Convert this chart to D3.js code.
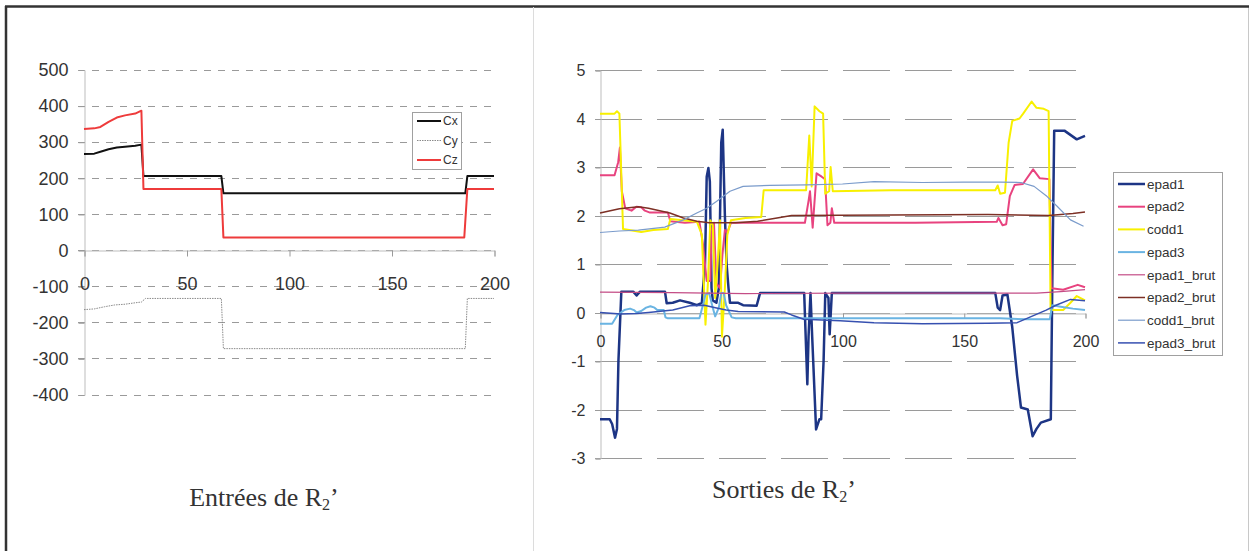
<!DOCTYPE html>
<html><head><meta charset="utf-8">
<script src="https://cdn.jsdelivr.net/npm/d3@7"></script>
<style>
html,body{margin:0;padding:0;background:#fff;}
svg{display:block;}
</style></head>
<body>
<svg id="c" width="1253" height="551"></svg>
<script>
// ---------- DATA ----------
// Left chart: inputs (x, value)
const cx = [[0,266],[5,267],[8,272],[12,279],[16,284],[20,286],[25,289],[28,292],[29,205],[67,205],[68,157],[186,157],[187,205],[200,205]];
const cy = [[0,-165],[5,-163],[10,-157],[15,-152],[20,-150],[25,-146],[28,-144],[30,-134],[67,-134],[68,-273],[186,-273],[187,-134],[200,-134]];
const cz = [[0,335],[5,337],[8,341],[12,355],[16,367],[20,373],[25,378],[28,386],[29,169],[67,169],[68,35],[185.5,35],[187,169],[200,169]];
const leftNames = ["Cx","Cy","Cz"];
const leftYTicks = [-400,-300,-200,-100,0,100,200,300,400,500];
const leftXTicks = [0,50,100,150,200];

// Right chart: outputs (x, value)
const epad1 = [[0,-2.2],[4,-2.2],[5,-2.3],[6.2,-2.58],[7,-2.4],[7.6,-1.0],[8.8,0.43],[13.7,0.43],[15.1,0.35],[16.5,0.43],[26.8,0.43],[27.5,0.19],[30,0.2],[33,0.25],[37,0.2],[40,0.15],[42,0.2],[43.3,1.0],[44,2.8],[44.7,2.98],[45.3,2.7],[46,0.5],[46.5,0.25],[48,0.2],[49,0.5],[50,3.5],[50.6,3.77],[51.5,2.0],[52.2,1.0],[53,0.5],[53.6,0.2],[57,0.2],[59,0.15],[64.6,0.14],[66,0.4],[84.2,0.4],[85.5,-1.48],[86,-0.5],[86.8,0.4],[87.5,-0.5],[89.1,-2.41],[90.5,-2.2],[91.2,-2.2],[92.2,-1.0],[92.9,0.4],[94.2,0.3],[94.7,-0.45],[95.6,0.4],[150,0.4],[163,0.4],[164,0.1],[165,0.05],[166,0.35],[168,0.37],[170,-0.3],[172,-1.3],[173.6,-1.96],[176.4,-2.0],[178.4,-2.55],[180,-2.4],[181.8,-2.27],[185.9,-2.2],[186.6,1.0],[187.3,3.75],[191.5,3.75],[196.6,3.57],[200,3.64]];
const epad2 = [[0,2.83],[6,2.83],[7.5,3.1],[8.2,3.4],[9,2.5],[10.4,2.15],[13,2.1],[15,2.18],[17,2.17],[18.5,2.1],[20.6,2.06],[28,2.06],[29,1.88],[35,1.85],[41,1.87],[42.5,1.4],[44,0.65],[45.5,0.65],[46,1.7],[47,1.85],[48,0.6],[49.5,0.5],[50.5,1.2],[51.5,1.7],[52.5,1.65],[54,1.85],[84.5,1.85],[86,2.3],[86.6,2.5],[87.7,1.75],[89.3,2.87],[91.4,2.8],[92.8,2.75],[93.8,1.8],[95,1.85],[95.6,2.15],[96.6,1.85],[130,1.85],[163.6,1.87],[164.3,1.95],[166,1.8],[167.5,1.82],[169,2.4],[171,2.63],[174.4,2.65],[178.6,2.95],[181.3,2.77],[185.3,2.75],[186.2,0.5],[191,0.47],[197,0.57],[200,0.52]];
const codd1 = [[0,4.1],[6,4.1],[7,4.15],[8,4.1],[9.5,1.72],[12,1.7],[17,1.66],[22,1.7],[28,1.72],[29,1.93],[34,1.9],[40,1.87],[42,1.6],[43.5,-0.25],[44.5,0.6],[45.5,1.9],[46.5,1.8],[47.5,0.3],[48.5,1.0],[49.5,1.9],[50.3,-0.5],[51.5,0.5],[52.5,1.6],[54,1.9],[60,1.95],[66.5,1.97],[67.5,2.52],[85,2.52],[86.3,3.65],[87.3,2.6],[88.5,4.25],[90.5,4.15],[92,4.1],[92.9,2.45],[94.5,2.5],[95.1,3.0],[96,2.5],[120,2.52],[163,2.52],[164,2.62],[165,2.45],[167,2.47],[168.5,3.5],[170,3.95],[173,4.0],[174.5,4.1],[178,4.35],[180,4.22],[183,4.2],[185,4.15],[185.8,0.05],[191,0.05],[194,0.2],[196.6,0.34],[200,0.25]];
const epad3 = [[0,-0.23],[5,-0.23],[7.2,-0.05],[8.6,0.0],[10,0.05],[12.4,0.08],[14,0.05],[15.1,0.0],[17,0.03],[19,0.1],[20.8,0.13],[22.5,0.1],[23.6,0.05],[26.3,0.05],[27,-0.1],[28,-0.12],[41,-0.12],[42.7,0.2],[43.5,0.37],[45,0.4],[46.5,0.1],[47.5,-0.08],[49,0.1],[50,0.4],[51,0.4],[52,0.15],[54.3,-0.1],[56,-0.12],[100,-0.12],[140,-0.12],[165,-0.12],[176,-0.14],[185.5,-0.14],[186.5,0.15],[190,0.12],[195,0.08],[200,0.05]];
const epad1_brut = [[0,0.42],[30,0.41],[60,0.39],[100,0.4],[150,0.4],[180,0.4],[190,0.43],[200,0.47]];
const epad2_brut = [[0,2.05],[8,2.14],[15.8,2.18],[20,2.15],[28.8,2.05],[34.4,1.95],[39.9,1.88],[45,1.85],[56,1.85],[65,1.88],[73,1.95],[79,2.0],[120,2.01],[160,2.02],[185,2.0],[195,2.04],[200,2.07]];
const codd1_brut = [[0,1.65],[8,1.68],[15.8,1.7],[26.7,1.76],[34.4,1.91],[39.9,2.05],[44,2.15],[48,2.29],[53.6,2.5],[59,2.6],[70,2.62],[85,2.63],[100,2.65],[113,2.7],[133,2.68],[150,2.69],[165,2.69],[173.6,2.68],[179,2.6],[184.4,2.39],[188.5,2.19],[194,1.91],[199.4,1.78]];
const epad3_brut = [[0,0.0],[8.6,-0.03],[15,-0.02],[20,0.0],[30,0.05],[37,0.14],[43,0.15],[47.6,0.1],[52,0.05],[57,0.02],[76,0.01],[79,-0.05],[84,-0.14],[99,-0.17],[113,-0.21],[133,-0.23],[160,-0.22],[172,-0.21],[178,-0.08],[184,0.05],[188,0.15],[194,0.27],[200,0.24]];
const rightNames = ["epad1","epad2","codd1","epad3","epad1_brut","epad2_brut","codd1_brut","epad3_brut"];
const rightYTicks = [-3,-2,-1,0,1,2,3,4,5];
const rightXTicks = [0,50,100,150,200];

// ---------- DRAW ----------
const svg = d3.select("#c");
const SANS = "'Liberation Sans', Arial, sans-serif";
const SERIF = "'Liberation Serif', 'Times New Roman', serif";
const fmt = d => String(d);  // plain hyphen-minus as in the reference

// frame
svg.append("rect").attr("x",5.5).attr("y",6.5).attr("width",1243).attr("height",560)
  .attr("fill","none").attr("stroke","#c8c8c8").attr("stroke-width",1);
svg.append("line").attr("x1",5).attr("x2",1249).attr("y1",6.5).attr("y2",6.5).attr("stroke","#333").attr("stroke-width",2.5);
svg.append("line").attr("x1",6).attr("x2",6).attr("y1",6).attr("y2",551).attr("stroke","#333").attr("stroke-width",2.5);
svg.append("line").attr("x1",533.5).attr("x2",533.5).attr("y1",7).attr("y2",551).attr("stroke","#dcdcdc").attr("stroke-width",1);

function panel(cfg){
  const g = svg.append("g");
  const x = d3.scaleLinear().domain([0,200]).range(cfg.xr);
  const y = d3.scaleLinear().domain(cfg.yd).range(cfg.yr);
  // grid
  g.append("g").selectAll("line").data(cfg.yTicks).join("line")
    .attr("x1",cfg.gridX0).attr("x2",x(200)).attr("y1",d=>Math.round(y(d))+0.5).attr("y2",d=>Math.round(y(d))+0.5)
    .attr("stroke","#9a9a9a").attr("stroke-width",1).attr("stroke-dasharray",cfg.dash);
  // y axis
  const ya = g.append("g").attr("transform",`translate(${x(0)+0.5},0.5)`)
    .call(d3.axisLeft(y).tickValues(cfg.yTicks).tickSize(cfg.tick).tickPadding(cfg.ypad).tickFormat(fmt));
  ya.select(".domain").attr("stroke","#bdbdbd");
  ya.selectAll(".tick line").attr("stroke","#9a9a9a");
  ya.selectAll("text").attr("font-family",SANS).attr("font-size",cfg.yfs).attr("fill","#333");
  // x axis at 0
  const xa = g.append("g").attr("transform",`translate(0.5,${Math.round(y(0))+0.5})`)
    .call(d3.axisBottom(x).tickValues(cfg.xTicks).tickSize(cfg.tick).tickPadding(cfg.xpad).tickFormat(fmt));
  xa.select(".domain").attr("stroke","#bdbdbd");
  xa.selectAll(".tick line").attr("stroke","#9a9a9a");
  xa.selectAll("text").attr("font-family",SANS).attr("font-size",cfg.xfs).attr("fill","#333");
  // lines
  const line = d3.line().x(d=>x(d[0])).y(d=>y(d[1]));
  cfg.series.forEach(s=>{
    g.append("path").datum(s.data).attr("d",line).attr("fill","none")
      .attr("stroke",s.color).attr("stroke-width",s.w).attr("stroke-linejoin","round")
      .attr("stroke-dasharray",s.dash||null);
  });
  // legend
  const L = cfg.legend;
  g.append("rect").attr("x",L.x+0.5).attr("y",L.y+0.5).attr("width",L.w).attr("height",L.h)
    .attr("fill","#fff").attr("stroke","#a0a0a0");
  cfg.series.forEach((s,i)=>{
    const yy = L.y0 + i*L.step;
    g.append("line").attr("x1",L.lx0).attr("x2",L.lx1).attr("y1",yy).attr("y2",yy)
      .attr("stroke",s.color).attr("stroke-width",s.w).attr("stroke-dasharray",s.dash||null);
    g.append("text").attr("x",L.tx).attr("y",yy).attr("dy","0.35em").text(s.name)
      .attr("font-family",SANS).attr("font-size",L.fs).attr("fill","#333");
  });
  // title
  const t = svg.append("text").attr("x",cfg.title.x).attr("y",cfg.title.y).attr("text-anchor","middle")
    .attr("font-family",SERIF).attr("font-size",cfg.title.fs).attr("fill","#333");
  t.append("tspan").text(cfg.title.text+" R");
  t.append("tspan").attr("font-size",cfg.title.fs*0.62).attr("dy",4).text("2");
  t.append("tspan").attr("dy",-4).text("\u2019");
}

panel({
  xr:[84,494], yd:[-400,500], yr:[394.5,69.5], gridX0:78, dash:"7,7",
  yTicks:leftYTicks, xTicks:leftXTicks, tick:6, ypad:10, xpad:21, yfs:18, xfs:18,
  series:[
    {name:leftNames[0], data:cx, color:"#111", w:2},
    {name:leftNames[1], data:cy, color:"#8a8a8a", w:1, dash:"1.5,1"},
    {name:leftNames[2], data:cz, color:"#ee3b3b", w:2}
  ],
  legend:{x:412,y:112,w:49,h:57,y0:121,step:19.5,lx0:417,lx1:441,tx:443,fs:12},
  title:{x:264,y:506,fs:26,text:"Entrées de"}
});

panel({
  xr:[600,1085], yd:[-3,5], yr:[458,70], gridX0:595, dash:"47,15",
  yTicks:rightYTicks, xTicks:rightXTicks, tick:5, ypad:10, xpad:17, yfs:16, xfs:16,
  series:[
    {name:rightNames[0], data:epad1, color:"#1d3585", w:2.5},
    {name:rightNames[1], data:epad2, color:"#e8437f", w:2},
    {name:rightNames[2], data:codd1, color:"#f8f000", w:2},
    {name:rightNames[3], data:epad3, color:"#6ab4e2", w:2},
    {name:rightNames[4], data:epad1_brut, color:"#c44d86", w:1.2},
    {name:rightNames[5], data:epad2_brut, color:"#7d3025", w:1.5},
    {name:rightNames[6], data:codd1_brut, color:"#7a9bcb", w:1.2},
    {name:rightNames[7], data:epad3_brut, color:"#3650b0", w:1.5}
  ],
  legend:{x:1113,y:172,w:109,h:183,y0:184,step:22.7,lx0:1118,lx1:1145,tx:1147,fs:13.5},
  title:{x:784,y:498,fs:26,text:"Sorties de"}
});
</script>
</body></html>
